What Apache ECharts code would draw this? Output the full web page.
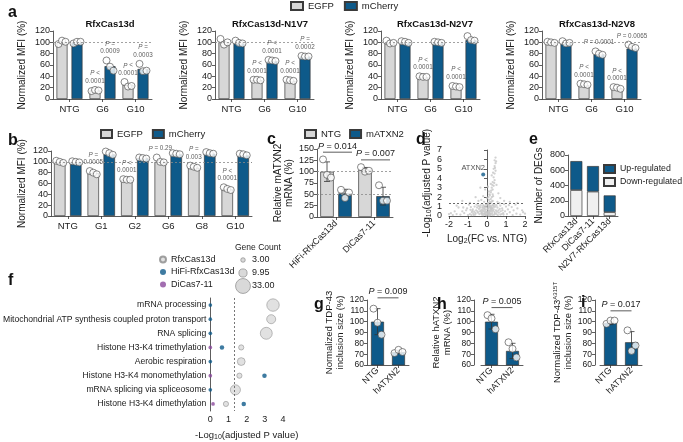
<!DOCTYPE html>
<html><head><meta charset="utf-8">
<script src="https://cdn.jsdelivr.net/npm/echarts@6/dist/echarts.min.js"></script>
<style>html,body{margin:0;padding:0;background:#fff}#c{width:683px;height:442px}</style>
</head><body><div id="c"></div>
<script>
// ---------------- DATA ----------------
// panel a
const aCategories = ['NTG', 'G6', 'G10'];
const aTitles = ['RfxCas13d', 'RfxCas13d-N1V7', 'RfxCas13d-N2V7', 'RfxCas13d-N2V8'];
const a1EGFP = [100, 15, 25];
const a1mCherry = [100, 58, 53];
const a1EGFPDots = [[97, 103, 101], [14, 16, 15], [30, 22, 23]];
const a1mCherryDots = [[98, 101, 101], [68, 57, 50], [62, 49, 50]];
const a1EGFPP = ['', 'P <\n0.0001', 'P <\n0.0001'];
const a1mCherryP = ['', 'P =\n0.0009', 'P =\n0.0003'];
const a2EGFP = [100, 33, 32];
const a2mCherry = [98, 67, 75];
const a2EGFPDots = [[106, 96, 100], [34, 34, 33], [34, 33, 32]];
const a2mCherryDots = [[103, 99, 98], [69, 68, 67], [76, 75, 75]];
const a2EGFPP = ['', 'P <\n0.0001', 'P <\n0.0001'];
const a2mCherryP = ['', 'P <\n0.0001', 'P =\n0.0002'];
const a3EGFP = [98, 38, 21];
const a3mCherry = [100, 100, 104];
const a3EGFPDots = [[103, 98, 99], [40, 39, 39], [23, 22, 21]];
const a3mCherryDots = [[102, 101, 99], [101, 100, 99], [111, 104, 103]];
const a3EGFPP = ['', 'P <\n0.0001', 'P <\n0.0001'];
const a4EGFP = [100, 24, 19];
const a4mCherry = [99, 79, 89];
const a4EGFPDots = [[101, 100, 99], [27, 26, 25], [21, 20, 18]];
const a4mCherryDots = [[102, 98, 99], [84, 80, 78], [96, 92, 90]];
const a4EGFPP = ['', 'P <\n0.0001', 'P <\n0.0001'];
const a4mCherryP = ['', 'P = 0.0001', 'P = 0.0065'];
const mfiTicks = {min: 0, max: 120, interval: 20};
// panel b
const bCategories = ['NTG', 'G1', 'G2', 'G6', 'G8', 'G10'];
const bEGFP = [100, 79, 67, 100, 89, 49];
const bmCherry = [99, 114, 107, 114, 115, 112];
const bEGFPDots = [[102, 100, 98], [83, 80, 77], [68, 67, 67], [108, 100, 99], [93, 91, 89], [53, 50, 48]];
const bmCherryDots = [[101, 100, 99], [119, 116, 113], [108, 107, 106], [116, 115, 114], [118, 116, 115], [115, 114, 112]];
const bEGFPP = ['', 'P =\n0.0005', 'P <\n0.0001', 'P = 0.29', 'P =\n0.003', 'P <\n0.0001'];
// panel c
const cCategories = ['HiFi-RfxCas13d', 'DiCas7-11'];
const cNTG = [100, 104];
const cmATXN2 = [52, 46];
const cNTGDots = [[127, 93, 87], [110, 100, 102]];
const cmATXN2Dots = [[60, 42, 54], [70, 36, 36]];
const cPText = ['P = 0.014', 'P = 0.007'];
const cPLineY = [143, 126];
// panel d (volcano)
const volcanoPoints = [
 [-0.05,0.1],[0.05,0.15],[0.1,0.05],[-0.1,0.2],[0.15,0.3],[-0.2,0.1],[0.2,0.2],[0,0.4],[-0.15,0.5],[0.1,0.6],
 [0.25,0.5],[-0.3,0.3],[0.3,0.1],[-0.25,0.7],[0.05,0.8],[0.2,0.9],[-0.1,1.0],[0.15,1.1],[0.35,0.7],[-0.4,0.2],
 [0.4,0.4],[-0.35,0.9],[0.45,1.0],[-0.5,0.5],[0.5,0.2],[0,1.2],[0.3,1.2],[-0.2,1.15],[0.6,0.6],[-0.6,0.3],
 [0.55,0.9],[-0.45,1.1],[0.08,0.35],[-0.08,0.65],[0.18,0.75],[-0.28,0.45],[0.28,0.85],[0.12,1.25],[-0.12,0.85],[0.38,0.15],
 [-0.7,0.1],[0.7,0.15],[-0.8,0.4],[0.85,0.3],[-0.9,0.2],[0.95,0.5],[-1.0,0.1],[1.05,0.2],[-1.2,0.3],[1.2,0.4],
 [-1.4,0.15],[1.35,0.1],[-1.6,0.2],[1.55,0.25],[-1.8,0.1],[1.75,0.15],[-0.75,0.7],[0.8,0.8],[-1.1,0.6],[1.1,0.7],
 [-1.3,0.5],[1.4,0.6],[-0.65,1.0],[0.7,1.1],[-1.5,0.9],[1.6,0.8],[-1.9,0.3],[1.9,0.4],[-0.95,1.2],[1.0,1.0],
 [0.05,1.4],[0.15,1.5],[0.1,1.7],[0.2,1.8],[0.0,1.9],[0.25,2.0],[0.15,2.2],[0.3,2.3],[0.2,2.5],[0.1,2.6],
 [0.3,2.8],[0.25,3.0],[0.35,3.2],[0.2,3.4],[0.3,3.6],[0.4,3.8],[0.35,4.1],[0.25,4.3],[0.4,4.5],[0.45,4.8],
 [0.35,5.0],[0.4,5.3],[0.45,5.6],[0.4,5.9],[0.45,6.2],
 [-0.15,1.5],[-0.3,1.7],[-0.2,2.1],[-0.45,1.6],[0.55,1.5],[0.7,1.9],[0.6,2.4],[-0.1,2.8],[0.9,1.6],[-0.6,2.0],
 [1.2,1.5],[-0.9,1.4],[0.5,3.3],[-0.35,3.0],[1.6,1.4],[-1.3,1.6],[0.65,1.35],[0.05,3.1],
 [-0.02,0.05],[0.03,0.3],[0.07,0.5],[-0.07,0.45],[0.12,0.2],[-0.12,0.3],[0.17,0.55],[-0.17,0.25],[0.22,0.65],[-0.22,0.55],
 [0.27,0.3],[-0.27,0.15],[0.32,0.55],[-0.32,0.6],[0.37,0.95],[-0.37,0.5],[0.42,0.25],[-0.42,0.75],[0.47,0.6],[-0.47,0.35],
 [0.52,0.45],[-0.52,0.9],[0.57,0.1],[-0.57,0.6],[0.62,0.35],[-0.62,0.15],[0.67,0.75],[-0.67,0.45],[0.72,0.5],[-0.72,0.25],
 [0.77,0.2],[-0.77,0.55],[0.82,0.6],[-0.82,0.1],[0.87,0.15],[-0.87,0.65],[0.02,0.7],[-0.03,0.95],[0.08,1.05],[-0.06,1.2],
 [0.16,0.95],[-0.16,1.05],[0.24,1.05],[-0.24,0.95],[0.33,1.1],[-0.33,1.15],[0.4,1.2],[-0.4,1.0],[0.5,1.15],[-0.55,1.2],
 [0.04,0.2],[-0.04,0.35],[0.09,0.9],[-0.09,0.1],[0.14,0.45],[-0.14,0.7],[0.19,0.1],[-0.19,0.85],[0.26,0.75],[-0.26,0.3],
 [0.05,1.35],[0.1,1.3],[0.2,1.4],[0.3,1.6],[0.25,1.55],[0.08,2.0],[0.22,2.7],[0.32,2.1],[0.12,2.3],[0.28,3.3],
 [0.38,3.5],[0.32,4.6],[0.42,5.1],[0.48,5.8],
 [-1.7,0.5],[1.85,0.6],[-2.0,0.2],[2.0,0.25],[-1.25,0.9],[1.3,0.95],[-1.05,0.8],[1.15,1.15],[-0.85,0.95],[0.9,1.25],
 [1.5,1.2],[-1.6,1.1]
];
const atxn2Point = [-0.2, 4.4];
const volcanoThreshold = 1.3;
// panel e
const eCategories = ['RfxCas13d', 'DiCas7-11', 'N2V7-RfxCas13d'];
const eDown = [340, 320, 50];
const eUp = [380, 335, 220];
// panel f
const fTerms = ['mRNA processing', 'Mitochondrial ATP synthesis coupled proton transport', 'RNA splicing',
  'Histone H3-K4 trimethylation', 'Aerobic respiration', 'Histone H3-K4 monomethylation',
  'mRNA splicing via spliceosome', 'Histone H3-K4 dimethylation'];
const fRfxP = [3.45, 3.35, 3.08, 1.7, 1.7, 1.6, 1.38, 0.86];
const fRfxCount = [23, 12, 21, 4, 9, 4, 15, 4];
const fHiFiP = [0, 0, 0, 0.64, 0, 2.98, 0, 1.84];
const fHiFiCount = [2, 2, 2, 3, 2, 3, 2, 3];
const fDiP = [null, null, null, 0, null, 0, null, 0.15];
const fDiCount = [null, null, null, 2, null, 2, null, 2];
const geneCountLegend = [3.00, 9.95, 33.00];
const fThreshold = 1.3;
// panels g, h, i
const ghiCategories = ['NTG', 'hATXN2'];
const gValues = [100, 72], gDots = [[112, 99, 88], [71, 74, 72]], gPText = 'P = 0.009', gPY = 122;
const hValues = [100, 73], hDots = [[106, 103, 93], [81, 75, 67]], hPText = 'P = 0.005', hPY = 113;
const iValues = [99, 81], iDots = [[98, 101, 101], [92, 73, 78]], iPText = 'P = 0.017', iPY = 110;

// ---------------- STYLE / BUILD ----------------
const FONT = '"Liberation Sans", Arial, Helvetica, sans-serif';
const BLUE = '#0e5a8a', GREY = '#d7d7d7', LIGHT = '#f0f0f0', PURPLE = '#8b4a9c';
const EDGE = '#3a3a3a', AX = '#333', TX = '#1a1a1a';
const RICH = {
  i: {fontStyle: 'italic', fontFamily: FONT},
  sub: {fontSize: 7, verticalAlign: 'bottom', padding: [4, 0, 0, 0], fontFamily: FONT},
  sup: {fontSize: 6, verticalAlign: 'top', padding: [0, 0, 5, 0], fontFamily: FONT}
};
const grids = [], xAxes = [], yAxes = [], series = [], titles = [], legends = [], graphics = [];
const mean = a => a.reduce((s, v) => s + v, 0) / a.length;
const sd = a => { const m = mean(a); return Math.sqrt(a.reduce((s, v) => s + (v - m) * (v - m), 0) / (a.length - 1)); };
const pfmt = s => s.replace(/P/, '{i|P}');

function yAxisBase(gi, c) {
  return {type: 'value', gridIndex: gi, min: c.yMin, max: c.yMax, interval: c.yInt, offset: c.yOffset || 0,
    name: c.yName, nameLocation: 'middle', nameGap: c.nameGap, nameRotate: 90,
    nameTextStyle: {fontSize: c.nameFont || 10, color: TX, fontFamily: FONT, lineHeight: (c.nameFont || 10) + 1.5, rich: RICH},
    axisLine: {show: true, lineStyle: {color: AX, width: 0.8}},
    axisTick: {show: true, length: 3, lineStyle: {color: AX, width: 0.8}},
    splitLine: {show: false},
    axisLabel: {fontSize: c.yFont || 9, color: TX, margin: 3, fontFamily: FONT}};
}

function panelBars(c) {
  const gi = grids.length;
  grids.push({left: c.left, top: c.top, width: c.width, height: c.height});
  const xi = xAxes.length, yi = yAxes.length;
  xAxes.push({type: 'category', gridIndex: gi, data: c.cats,
    axisLine: {lineStyle: {color: AX, width: 0.8}},
    axisTick: {show: true, alignWithLabel: true, length: 3, lineStyle: {color: AX, width: 0.8}},
    axisLabel: {interval: 0, rotate: c.rotate || 0, margin: c.xMargin || 5, fontSize: c.xFont || 9.5, color: TX, fontFamily: FONT}});
  yAxes.push(yAxisBase(gi, c));
  if (c.refLines) series.push({type: 'scatter', xAxisIndex: xi, yAxisIndex: yi, data: [], z: 1, silent: true,
    markLine: {silent: true, symbol: 'none', animation: false, label: {show: false},
      lineStyle: {type: [2, 2], color: '#8a8a8a', width: 0.8}, data: c.refLines.map(v => ({yAxis: v}))}});
  const n = c.series.length;
  c.series.forEach((s, si) => {
    const off = (n === 1 || c.stack) ? 0 : (si === 0 ? -c.offset : c.offset);
    const bar = {type: 'bar', name: s.name, xAxisIndex: xi, yAxisIndex: yi, data: s.values, barWidth: c.barWidth,
      itemStyle: {color: s.color, borderColor: EDGE, borderWidth: 0.7}, z: 2, silent: true};
    if (c.stack) bar.stack = 'st' + gi;
    else if (n > 1) bar.barGap = ((2 * c.offset - c.barWidth) / c.barWidth * 100) + '%';
    series.push(bar);
    if (s.dots && c.errorBars) {
      series.push({type: 'custom', xAxisIndex: xi, yAxisIndex: yi, z: 3, silent: true,
        data: s.dots.map((arr, ci) => [ci, s.values[ci] - sd(arr), s.values[ci] + sd(arr)]),
        renderItem: (p, api) => {
          const lo = api.coord([api.value(0), api.value(1)]), hi = api.coord([api.value(0), api.value(2)]);
          const x = lo[0] + off, w = 3, st = {stroke: '#333', lineWidth: 0.8};
          return {type: 'group', children: [
            {type: 'line', shape: {x1: x, y1: lo[1], x2: x, y2: hi[1]}, style: st},
            {type: 'line', shape: {x1: x - w, y1: hi[1], x2: x + w, y2: hi[1]}, style: st},
            {type: 'line', shape: {x1: x - w, y1: lo[1], x2: x + w, y2: lo[1]}, style: st}]};
        }});
    }
    if (s.dots) {
      const jit = c.jitter || [-3.5, 0, 3.5];
      series.push({type: 'scatter', xAxisIndex: xi, yAxisIndex: yi, z: 4, silent: true, symbolSize: c.dotSize || 7,
        itemStyle: {color: '#fff', borderColor: '#444', borderWidth: 0.8},
        data: s.dots.flatMap((arr, ci) => arr.map((v, k) => ({value: [ci, v], symbolOffset: [off + jit[k % jit.length], 0]})))});
    }
    if (s.pLabels) {
      series.push({type: 'scatter', xAxisIndex: xi, yAxisIndex: yi, z: 5, silent: true, symbolSize: 1,
        itemStyle: {color: 'rgba(0,0,0,0)'},
        label: {show: true, position: 'top', distance: 4.5, fontSize: 6.3, lineHeight: 7.5, color: '#333', fontFamily: FONT, rich: {i: {fontStyle: 'italic', fontSize: 6.3, fontFamily: FONT}}},
        data: s.pLabels.map((p, ci) => p ? {value: [ci, Math.max(...(s.dots ? s.dots[ci] : [s.values[ci]]))],
          label: {formatter: pfmt(p), offset: [off, 0]}} : null).filter(Boolean)});
    }
  });
  if (c.brackets) {
    series.push({type: 'custom', xAxisIndex: xi, yAxisIndex: yi, z: 5, silent: true,
      data: c.brackets.map(b => [b.a, b.b, b.y]),
      renderItem: (p, api) => {
        const b = c.brackets[p.dataIndex];
        const p0 = api.coord([api.value(0), api.value(2)]), p1 = api.coord([api.value(1), api.value(2)]);
        const x0 = p0[0] + (b.da || 0), x1 = p1[0] + (b.db || 0);
        return {type: 'group', children: [
          {type: 'line', shape: {x1: x0, y1: p0[1], x2: x1, y2: p0[1]}, style: {stroke: '#333', lineWidth: 0.8}},
          {type: 'text', x: (x0 + x1) / 2, y: p0[1] - 1.5, style: {text: pfmt(b.text), align: 'center', verticalAlign: 'bottom',
            fontSize: 9, fontFamily: FONT, fill: TX, rich: {i: {fontStyle: 'italic', fontSize: 9, fontFamily: FONT}}}}]};
      }});
  }
  return {gi, xi, yi};
}

function letter(t, x, y) {
  titles.push({text: t, left: x, top: y, textStyle: {fontSize: 16, fontWeight: 'bold', fontFamily: FONT, color: '#111'}});
}
function legendBox(names, left, top, extra) {
  legends.push(Object.assign({data: names, left, top, selectedMode: false, icon: 'rect', itemWidth: 12, itemHeight: 8, itemGap: 10,
    padding: 0, textStyle: {fontSize: 9.5, color: TX, fontFamily: FONT}}, extra || {}));
}

// ---- panel a ----
const aLayout = [{left: 53, cx: 105}, {left: 215, cx: 265}, {left: 381, cx: 430}, {left: 542, cx: 592}];
const aData = [
  [a1EGFP, a1EGFPDots, a1EGFPP, a1mCherry, a1mCherryDots, a1mCherryP],
  [a2EGFP, a2EGFPDots, a2EGFPP, a2mCherry, a2mCherryDots, a2mCherryP],
  [a3EGFP, a3EGFPDots, a3EGFPP, a3mCherry, a3mCherryDots, null],
  [a4EGFP, a4EGFPDots, a4EGFPP, a4mCherry, a4mCherryDots, a4mCherryP]];
aData.forEach((d, k) => {
  panelBars({left: aLayout[k].left, top: 31, width: 99, height: 68, cats: aCategories,
    yMin: mfiTicks.min, yMax: mfiTicks.max, yInt: mfiTicks.interval, yName: 'Normalized MFI (%)', nameGap: 25,
    barWidth: 11, offset: 7.5, refLines: [100],
    series: [{name: 'EGFP', color: GREY, values: d[0], dots: d[1], pLabels: d[2]},
             {name: 'mCherry', color: BLUE, values: d[3], dots: d[4], pLabels: d[5]}]});
  titles.push({text: aTitles[k], left: aLayout[k].cx, top: 14, textAlign: 'center',
    textStyle: {fontSize: 9.5, fontWeight: 'bold', fontFamily: FONT, color: '#111'}});
});
letter('a', 3, 0);
legendBox(['EGFP', 'mCherry'], 290, 1);

// ---- panel b ----
panelBars({left: 51, top: 151, width: 201, height: 65, cats: bCategories,
  yMin: mfiTicks.min, yMax: mfiTicks.max, yInt: mfiTicks.interval, yName: 'Normalized MFI (%)', nameGap: 23,
  barWidth: 11.5, offset: 8, refLines: [100],
  series: [{name: 'EGFP', color: GREY, values: bEGFP, dots: bEGFPDots, pLabels: bEGFPP},
           {name: 'mCherry', color: BLUE, values: bmCherry, dots: bmCherryDots}]});
letter('b', 3, 128);
legendBox(['EGFP', 'mCherry'], 100, 129, {itemWidth: 11, itemGap: 9});

// ---- panel c ----
panelBars({left: 317, top: 149, width: 76, height: 68, cats: cCategories, rotate: 45, xFont: 9,
  yMin: 0, yMax: 150, yInt: 25, yName: 'Relative mATXN2\nmRNA (%)', nameGap: 20,
  barWidth: 13.5, offset: 9, refLines: [100, 50], errorBars: true, jitter: [-4, 0, 4],
  brackets: cPText.map((t, k) => ({a: k, b: k, y: cPLineY[k], text: t, da: -13, db: 16})),
  series: [{name: 'NTG', color: GREY, values: cNTG, dots: cNTGDots},
           {name: 'mATXN2', color: BLUE, values: cmATXN2, dots: cmATXN2Dots}]});
letter('c', 262, 127);
legendBox(['NTG', 'mATXN2'], 304, 129, {itemWidth: 11, itemGap: 8});

// ---- panel d ----
(function () {
  const gi = grids.length;
  grids.push({left: 449, top: 150, width: 76, height: 66});
  const xi = xAxes.length, yi = yAxes.length;
  xAxes.push({type: 'value', gridIndex: gi, min: -2, max: 2, interval: 1,
    name: 'Log{sub|2}(FC vs. NTG)', nameLocation: 'middle', nameGap: 18,
    nameTextStyle: {fontSize: 10, color: TX, fontFamily: FONT, rich: RICH},
    axisLine: {onZero: false, lineStyle: {color: AX, width: 0.8}}, axisTick: {length: 3, lineStyle: {color: AX, width: 0.8}},
    splitLine: {show: false}, axisLabel: {fontSize: 9, color: TX, margin: 4, fontFamily: FONT}});
  yAxes.push(yAxisBase(gi, {yMin: 0, yMax: 7, yInt: 1, yOffset: 4, yName: '-Log{sub|10}(adjusted P value)', nameGap: 12}));
  series.push({type: 'scatter', xAxisIndex: xi, yAxisIndex: yi, z: 2, silent: true, symbolSize: 2.3,
    itemStyle: {color: '#c6c6c6'}, data: volcanoPoints,
    markLine: {silent: true, symbol: 'none', label: {show: false}, lineStyle: {type: [2, 2], color: '#444', width: 0.8},
      data: [{yAxis: volcanoThreshold}]}});
  series.push({type: 'scatter', xAxisIndex: xi, yAxisIndex: yi, z: 3, silent: true, symbolSize: 4,
    itemStyle: {color: BLUE}, data: [atxn2Point],
    label: {show: true, formatter: 'ATXN2', position: 'top', distance: 1, offset: [-10, 0], fontSize: 7.5, color: TX, fontFamily: FONT}});
})();
letter('d', 411, 127);

// ---- panel e ----
panelBars({left: 568, top: 155, width: 50, height: 61, cats: eCategories, rotate: 45, xFont: 9, xMargin: 4,
  yMin: 0, yMax: 800, yInt: 200, yName: 'Number of DEGs', nameGap: 23, barWidth: 12, stack: true,
  series: [{name: 'Down-regulated', color: LIGHT, values: eDown},
           {name: 'Up-regulated', color: BLUE, values: eUp}]});
letter('e', 524, 127);
legendBox(['Up-regulated', 'Down-regulated'], 603, 164, {orient: 'vertical', itemGap: 3, itemWidth: 11,
  textStyle: {fontSize: 8.8, color: TX, fontFamily: FONT}});

// ---- panel f ----
(function () {
  const gi = grids.length;
  grids.push({left: 208, top: 298, width: 75, height: 117});
  const xi = xAxes.length, yi = yAxes.length;
  xAxes.push({type: 'value', gridIndex: gi, min: 0, max: 4, interval: 1,
    name: '-Log{sub|10}(adjusted P value)', nameLocation: 'middle', nameGap: 19,
    nameTextStyle: {fontSize: 9.5, color: TX, fontFamily: FONT, rich: RICH},
    axisLine: {onZero: false, lineStyle: {color: AX, width: 0.8}}, axisTick: {length: 3, lineStyle: {color: AX, width: 0.8}},
    splitLine: {show: false}, axisLabel: {fontSize: 9, color: TX, margin: 4, fontFamily: FONT}});
  yAxes.push({type: 'category', gridIndex: gi, data: fTerms, inverse: true,
    axisLine: {onZero: false, lineStyle: {color: AX, width: 0.8}},
    axisTick: {alignWithLabel: true, length: 3, lineStyle: {color: AX, width: 0.8}},
    axisLabel: {fontSize: 8.6, color: TX, margin: 4, fontFamily: FONT, interval: 0}});
  const size = v => 2.6 * Math.sqrt(v[2]);
  const mk = (ps, cs) => ps.map((p, k) => p === null ? null : [p, k, cs[k]]).filter(Boolean);
  series.push({type: 'scatter', name: 'RfxCas13d', xAxisIndex: xi, yAxisIndex: yi, z: 3, silent: true, symbolSize: size,
    itemStyle: {color: '#d9d9d9', borderColor: '#8a8a8a', borderWidth: 0.7}, data: mk(fRfxP, fRfxCount),
    markLine: {silent: true, symbol: 'none', label: {show: false}, lineStyle: {type: [2, 2], color: '#555', width: 0.8},
      data: [{xAxis: fThreshold}]}});
  series.push({type: 'scatter', name: 'HiFi-RfxCas13d', xAxisIndex: xi, yAxisIndex: yi, z: 4, silent: true, symbolSize: size,
    itemStyle: {color: BLUE}, data: mk(fHiFiP, fHiFiCount)});
  series.push({type: 'scatter', name: 'DiCas7-11', xAxisIndex: xi, yAxisIndex: yi, z: 5, silent: true, symbolSize: size,
    itemStyle: {color: PURPLE}, data: mk(fDiP, fDiCount)});
  // gene count legend
  graphics.push({type: 'text', left: 235, top: 243, style: {text: 'Gene Count', font: '8.5px ' + FONT, fill: TX}});
  geneCountLegend.forEach((g, k) => {
    const cy = 260 + 13 * k;
    graphics.push({type: 'circle', shape: {cx: 243, cy: cy, r: size([0, 0, g]) / 2},
      style: {fill: '#d9d9d9', stroke: '#8a8a8a', lineWidth: 0.7}});
    graphics.push({type: 'text', x: 252, y: cy, style: {text: g.toFixed(2), font: '9px ' + FONT, fill: TX, verticalAlign: 'middle'}});
  });
})();
letter('f', 3, 268);
legends.push({data: ['RfxCas13d', 'HiFi-RfxCas13d', 'DiCas7-11'], left: 159, top: 255, orient: 'vertical', selectedMode: false,
  icon: 'circle', itemWidth: 6, itemHeight: 6, itemGap: 3.5, padding: 0,
  textStyle: {fontSize: 9, color: TX, fontFamily: FONT}});

// ---- panels g, h, i ----
const ghi = [
  {left: 367, off: 0, gap: 18, vals: gValues, dots: gDots, p: gPText, py: gPY, name: 'Normalized TDP-43\ninclusion size (%)', letter: ['g', 309, 292]},
  {left: 481, off: 7, gap: 21, vals: hValues, dots: hDots, p: hPText, py: hPY, name: 'Relative hATXN2\nmRNA (%)', letter: ['h', 432, 292]},
  {left: 600, off: 5, gap: 21, vals: iValues, dots: iDots, p: iPText, py: iPY, name: 'Normalized TDP-43{sup|A315T}\ninclusion size (%)', letter: ['i', 576, 290]}];
ghi.forEach(q => {
  panelBars({left: q.left, top: 300, width: 42, height: 65, cats: ghiCategories, rotate: 45, xFont: 9, xMargin: 4,
    yMin: 60, yMax: 120, yInt: 10, yOffset: q.off, yName: q.name, nameGap: q.gap, nameFont: 9.5, yFont: 8.5,
    barWidth: 13, errorBars: true, jitter: [-4, 0, 4],
    brackets: [{a: 0, b: 1, y: q.py, text: q.p}],
    series: [{name: 'val', color: BLUE, values: q.vals, dots: q.dots}]});
  letter(q.letter[0], q.letter[1], q.letter[2]);
});

const chart = echarts.init(document.getElementById('c'), null, {renderer: 'canvas'});
chart.setOption({
  animation: false, backgroundColor: '#fff',
  textStyle: {fontFamily: FONT},
  title: titles, legend: legends, grid: grids, xAxis: xAxes, yAxis: yAxes, series: series, graphic: graphics
});
</script></body></html>
